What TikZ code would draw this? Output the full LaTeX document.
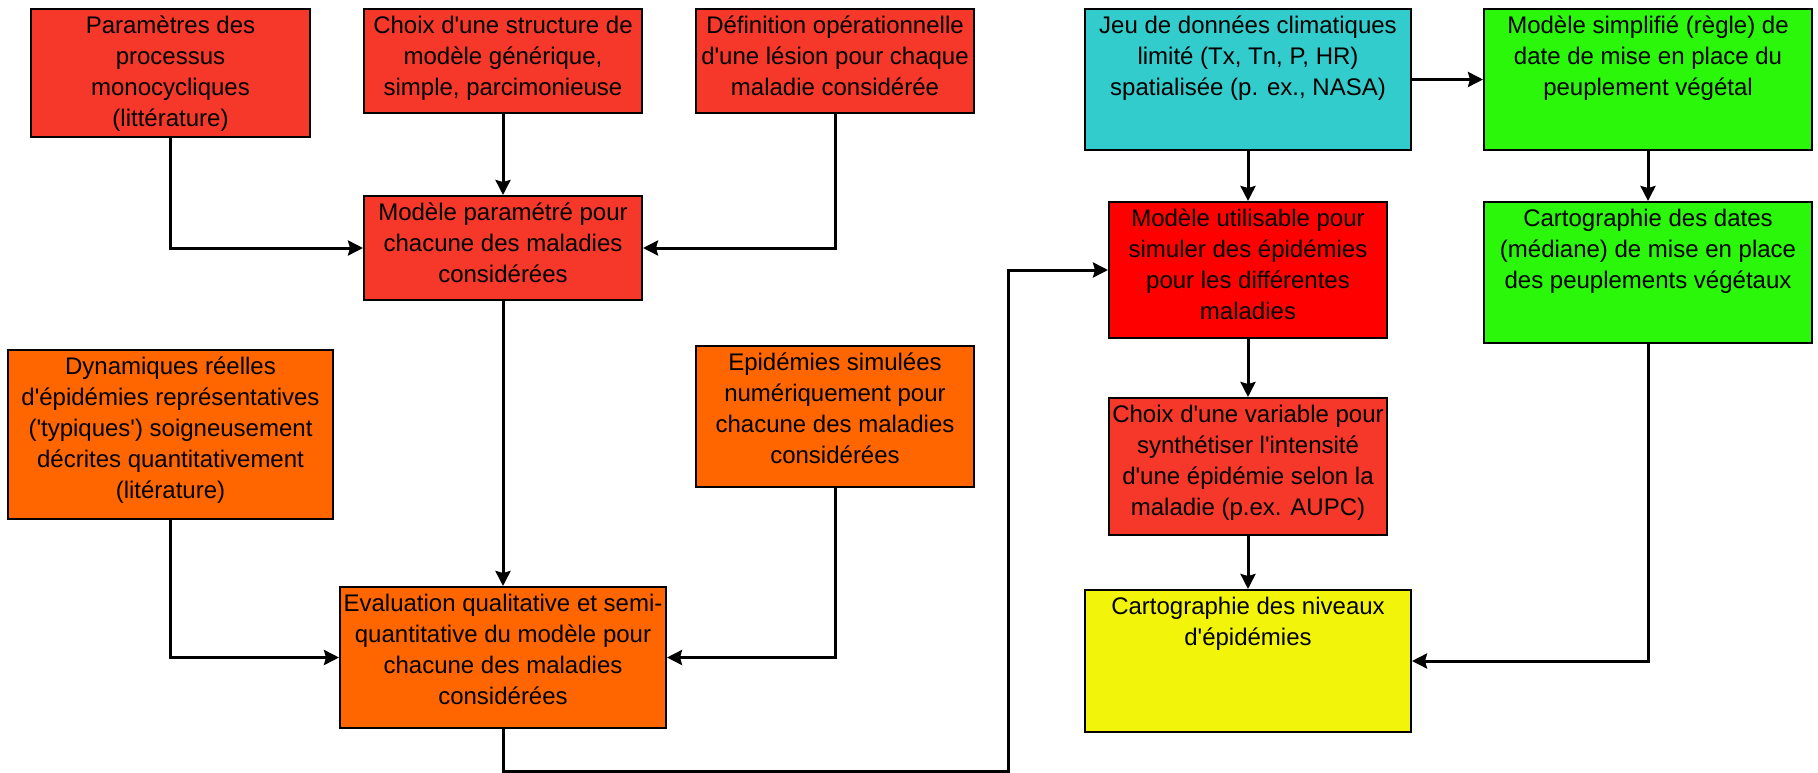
\documentclass[tikz,border=0pt]{standalone}
\usepackage{fontspec}
\setmainfont{Liberation Sans}
\usetikzlibrary{arrows.meta}

\definecolor{boxred}{RGB}{245,56,42}
\definecolor{simred}{RGB}{255,0,0}
\definecolor{boxorange}{RGB}{255,102,0}
\definecolor{boxcyan}{RGB}{51,204,204}
\definecolor{boxgreen}{RGB}{42,247,10}
\definecolor{boxyellow}{RGB}{242,245,10}
\newcommand{\apos}{\textquotesingle}

\tikzset{
  bx/.style={draw=black, line width=2pt, anchor=north west, inner sep=0pt},
  txt/.style={anchor=north, align=center, inner xsep=2pt, inner ysep=7.5pt,
    font=\fontsize{24}{31}\selectfont},
  arr/.style={line width=3pt, -{Stealth[length=15pt,width=15pt,inset=2pt]}}
}

\begin{document}
\begin{tikzpicture}[x=1pt,y=-1pt]
  \useasboundingbox (0,0) rectangle (1818,773);
  % partie modele
  \node[bx, fill=boxred, minimum width=279, minimum height=128,
    label={[txt]north:{Paramètres des\\processus\\monocycliques\\(littérature)}}] (param) at (30,8) {};
  \node[bx, fill=boxred, minimum width=278, minimum height=104,
    label={[txt]north:{Choix d\apos une structure de\\modèle générique,\\simple, parcimonieuse}}] (struct) at (363,8) {};
  \node[bx, fill=boxred, minimum width=278, minimum height=104,
    label={[txt]north:{Définition opérationnelle\\d\apos une lésion pour chaque\\maladie considérée}}] (lesion) at (695,8) {};
  \node[bx, fill=boxred, minimum width=278, minimum height=104,
    label={[txt]north:{Modèle paramétré pour\\chacune des maladies\\considérées}}] (modpar) at (363,195) {};
  \node[bx, fill=boxorange, minimum width=325, minimum height=169,
    label={[txt]north:{Dynamiques réelles\\d\apos épidémies représentatives\\(\apos typiques\apos) soigneusement\\décrites quantitativement\\(litérature)}}] (dynam) at (7,349) {};
  \node[bx, fill=boxorange, minimum width=278, minimum height=141,
    label={[txt]north:{Epidémies simulées\\numériquement pour\\chacune des maladies\\considérées}}] (simul) at (695,345) {};
  \node[bx, fill=boxorange, minimum width=326, minimum height=141,
    label={[txt]north:{Evaluation qualitative et semi-\\quantitative du modèle pour\\chacune des maladies\\considérées}}] (evalu) at (339,586) {};
  % partie cartographie
  \node[bx, fill=boxcyan, minimum width=326, minimum height=141,
    label={[txt]north:{Jeu de données climatiques\\limité (Tx, Tn, P, HR)\\spatialisée (p. ex., NASA)}}] (climat) at (1084,8) {};
  \node[bx, fill=boxgreen, minimum width=328, minimum height=141,
    label={[txt]north:{Modèle simplifié (règle) de\\date de mise en place du\\peuplement végétal}}] (regle) at (1483,8) {};
  \node[bx, fill=simred, minimum width=278, minimum height=136,
    label={[txt]north:{Modèle utilisable pour\\simuler des épidémies\\pour les différentes\\maladies}}] (modutil) at (1108,201) {};
  \node[bx, fill=boxgreen, minimum width=328, minimum height=141,
    label={[txt]north:{Cartographie des dates\\(médiane) de mise en place\\des peuplements végétaux}}] (cartdate) at (1483,201) {};
  \node[bx, fill=boxred, minimum width=278, minimum height=137,
    label={[txt]north:{Choix d\apos une variable pour\\synthétiser l\apos intensité\\d\apos une épidémie selon la\\maladie (p.ex. AUPC)}}] (variable) at (1108,397) {};
  \node[bx, fill=boxyellow, minimum width=326, minimum height=142,
    label={[txt]north:{Cartographie des niveaux\\d\apos épidémies}}] (cartniv) at (1084,589) {};
  \coordinate (coin) at (1008,771);

  \draw[arr] (param.south) |- (modpar.west);
  \draw[arr] (struct) -- (modpar);
  \draw[arr] (lesion.south) |- (modpar.east);
  \draw[arr] (modpar) -- (evalu);
  \draw[arr] (dynam.south) |- (evalu.west);
  \draw[arr] (simul.south) |- (evalu.east);
  \draw[arr] (evalu.south) |- (coin) |- (modutil.west);
  \draw[arr] (climat) -- (regle);
  \draw[arr] (climat) -- (modutil);
  \draw[arr] (regle) -- (cartdate);
  \draw[arr] (modutil) -- (variable);
  \draw[arr] (variable) -- (cartniv);
  \draw[arr] (cartdate.south) |- (cartniv.east);
\end{tikzpicture}
\end{document}
